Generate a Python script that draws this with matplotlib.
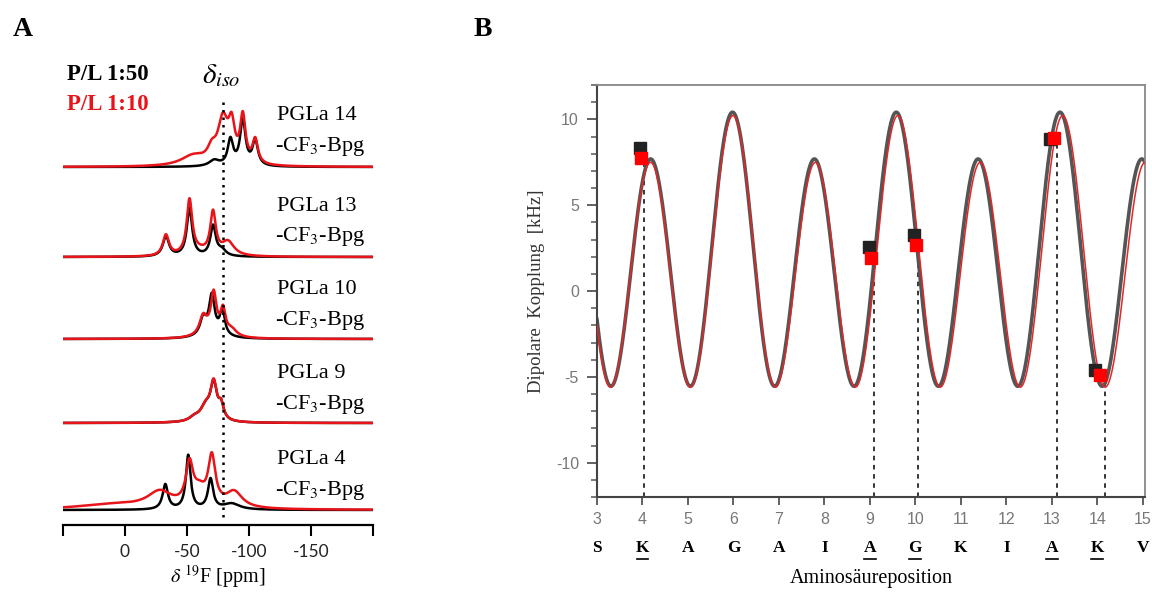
import numpy as np
import matplotlib
matplotlib.use("Agg")
import matplotlib.pyplot as plt
import matplotlib.transforms as mtransforms

plt.rcParams['mathtext.fontset'] = 'stix'
plt.rcParams['axes.unicode_minus'] = False
plt.rcParams['font.family'] = ['Liberation Serif', 'DejaVu Serif']

W, H = 1152, 592

# ---------------- panel A: 19F spectra (peak lists: centre ppm, height, half width) ----
samples = ['PGLa 14', 'PGLa 13', 'PGLa 10', 'PGLa 9', 'PGLa 4']

pgla14_black = [(-72, 6, 5), (-85, 26, 2.6), (-95, 46, 2.6), (-105, 25, 2.6)]
pgla14_red = [(-55, 10, 12), (-70, 12, 4), (-79, 44, 5), (-86, 34, 3), (-95, 46, 2.6), (-105, 24, 2.6)]
pgla13_black = [(-33, 20, 3), (-52, 48, 2.6), (-71, 30, 2.6), (-78, 6, 4)]
pgla13_red = [(-33, 21, 3), (-52, 55, 2.7), (-71, 42, 2.7), (-83, 14, 6), (-60, 4, 8)]
pgla10_black = [(-63, 16, 3), (-70, 36, 2.6), (-78.5, 24, 2.4), (-70, 6, 9)]
pgla10_red = [(-63, 18, 3.5), (-71.5, 38, 2.6), (-79, 24, 2.4), (-86, 7, 5), (-70, 6, 9)]
pgla9_black = [(-71.5, 36, 3.2), (-65, 14, 5), (-77.5, 14, 2.5), (-56, 4, 5)]
pgla9_red = [(-71.5, 37, 3.2), (-65, 14, 5), (-77.5, 14, 2.5), (-56, 4, 5)]
pgla4_black = [(-32.5, 25, 2.6), (-51, 54, 2.3), (-69, 30, 2.5), (-86, 6, 8)]
pgla4_red = [(10, 5, 35), (-28, 16, 12), (-52, 40, 3.5), (-60, 14, 6), (-70, 48, 3.5), (-88, 16, 8)]

black_sets = [pgla14_black, pgla13_black, pgla10_black, pgla9_black, pgla4_black]
red_sets = [pgla14_red, pgla13_red, pgla10_red, pgla9_red, pgla4_red]

delta_iso = -79

# ---------------- panel B: dipolar waves ----------------
positions = np.arange(3, 16)
residues = ['S', 'K', 'A', 'G', 'A', 'I', 'A', 'G', 'K', 'I', 'A', 'K', 'V']
labelled = [4, 9, 10, 13, 14]

x_black = [3.95, 8.99, 9.98, 12.97, 13.96]
d_black = [8.35, 2.56, 3.27, 8.84, -4.63]
x_red = [3.97, 9.03, 10.02, 13.04, 14.07]
d_red = [7.73, 1.92, 2.69, 8.90, -4.92]
x_dash = [4.03, 9.08, 10.06, 13.12, 14.16]

# fit parameters: D_par [kHz], tilt, bond angle, peak position, rotation/residue
fit_black = dict(dpar=11.1, tilt=82.4, beta=70.7, x0=5.98, rot=100.0)
fit_red = dict(dpar=11.2, tilt=83.0, beta=69.0, x0=5.99, rot=99.3)


def spectrum(x, peaks):
    y = np.zeros_like(x)
    for c, h, g in peaks:
        y += h * g**2 / ((x - c)**2 + g**2)
    return y


def wave(x, dpar, tilt, beta, x0, rot):
    t, b = np.radians(tilt), np.radians(beta)
    phi = np.radians(rot * (x - x0))
    cos_t = np.cos(t) * np.cos(b) + np.sin(t) * np.sin(b) * np.cos(phi)
    return dpar * (3 * cos_t**2 - 1) / 2


def px(x, y):
    return x / W, 1 - y / H


fig = plt.figure(figsize=(W / 100, H / 100), dpi=100)

# ---- A ----
axA = fig.add_axes([63 / W, 1 - 525 / H, 310 / W, 465 / H])
ppm = np.linspace(50, -200, 2000)
offsets = [358, 268, 186, 102, 15]
for off, pb, pr in zip(offsets, black_sets, red_sets):
    axA.plot(ppm, off + spectrum(ppm, pb), color='black', lw=1.8)
    axA.plot(ppm, off + spectrum(ppm, pr), color='#e8141a', lw=1.8)
axA.vlines(delta_iso, 8, 423, colors='black', linestyles=(0, (1, 2)), lw=1.8)
axA.set_xlim(50, -200)
axA.set_ylim(0, 465)
for s in ['left', 'right', 'top']:
    axA.spines[s].set_visible(False)
axA.spines['bottom'].set_linewidth(1.6)
axA.set_yticks([])
axA.set_xticks([50, 0, -50, -100, -150, -200])
axA.set_xticklabels(['', '0', '-50', '-100', '-150', ''], family='Lato', color='#222')
axA.tick_params(axis='x', direction='out', length=8, width=1.5, labelsize=12.5, pad=6)
axA.set_xlabel(r'$\delta$ $^{19}$F [ppm]', fontsize=14.5, labelpad=2)

label_y = [116, 206, 290, 374, 460]
for name, ly in zip(samples, label_y):
    fig.text(*px(277, ly), name, fontsize=16, va='center', ha='left')
    fig.text(*px(275, ly + 31), '-CF$_3$-Bpg', fontsize=16, va='center', ha='left')

fig.text(*px(67, 74), 'P/L 1:50', fontsize=16.5, weight='bold', va='center')
fig.text(*px(67, 104), 'P/L 1:10', fontsize=16.5, weight='bold', va='center', color='#e8141a')
fig.text(*px(221, 76), r'$\delta_{iso}$', fontsize=21, va='center', ha='center')

fig.text(*px(13, 30), 'A', fontsize=20, weight='bold', va='center')
fig.text(*px(474, 30), 'B', fontsize=20, weight='bold', va='center')

# ---- B ----
axB = fig.add_axes([597 / W, 1 - 497 / H, 548 / W, 412 / H])
xs = np.linspace(3, 15.05, 1500)
axB.plot(xs, wave(xs, **fit_black), color='#555555', lw=2.6, zorder=2)
axB.plot(xs, wave(xs, **fit_red), color='#e32626', lw=1.1, zorder=3)
axB.vlines(x_dash, -12, d_red, colors='black', linestyles=(0, (3, 3)), lw=1.1, zorder=1)
axB.plot(x_black, d_black, 's', color='#222222', ms=9, zorder=4)
axB.plot(x_red, d_red, 's', color='#ff0000', ms=9, zorder=5)

axB.set_xlim(3, 15.05)
axB.set_ylim(-12, 12)
axB.set_xticks(positions)
axB.set_yticks([-10, -5, 0, 5, 10])
axB.set_yticks(np.arange(-12, 13, 1), minor=True)
axB.tick_params(axis='both', which='major', direction='out', color='#555555', width=1.3,
                labelcolor='#777777', labelsize=11.5)
axB.tick_params(axis='y', which='major', length=7, pad=6)
axB.tick_params(axis='y', which='minor', length=4, width=1.1, color='#555555')
axB.tick_params(axis='x', which='major', length=6, pad=5)
for lab in axB.get_xticklabels() + axB.get_yticklabels():
    lab.set_family('Liberation Sans')
for s in ['left', 'bottom']:
    axB.spines[s].set_color('#444444')
    axB.spines[s].set_linewidth(1.5)
for s in ['top', 'right']:
    axB.spines[s].set_color('#888888')
    axB.spines[s].set_linewidth(1.3)

trans = mtransforms.blended_transform_factory(axB.transData, axB.transAxes)
for pos, res in zip(positions, residues):
    axB.text(pos, -0.124, res, transform=trans, ha='center', va='center',
             fontsize=12.5, weight='bold')
    if pos in labelled:
        axB.plot([pos - 0.13, pos + 0.13], [-0.15, -0.15], transform=trans,
                 color='black', lw=1.2, clip_on=False)

axB.set_ylabel('Dipolare  Kopplung  [kHz]', fontsize=13.5, color='#333333', labelpad=8)
axB.set_xlabel('Aminosäureposition', fontsize=14.5, labelpad=30)

fig.savefig('out.png', dpi=100)
